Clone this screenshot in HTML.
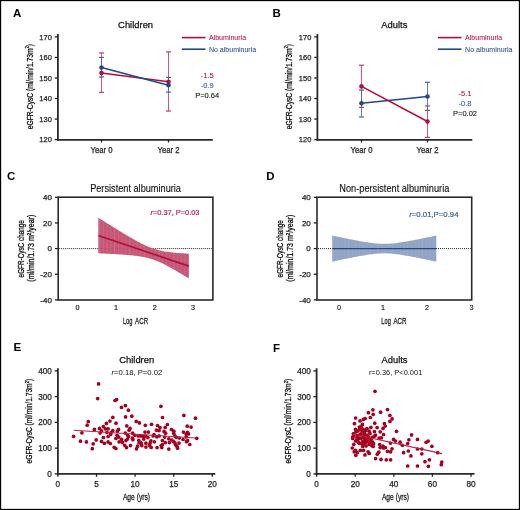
<!DOCTYPE html>
<html><head><meta charset="utf-8"><style>
html,body{margin:0;padding:0;background:#fff;overflow:hidden;}
svg{display:block;font-family:"Liberation Sans", sans-serif;will-change:transform;}
</style></head><body>
<svg width="520" height="510" viewBox="0 0 520 510">
<rect width="520" height="510" fill="#fff"/>
<rect x="0.5" y="0.5" width="519" height="509" fill="none" stroke="#000" stroke-width="1.3"/>
<text x="12.90" y="16.90" font-size="11.5" text-anchor="start" fill="#000" font-weight="bold" >A</text>
<text x="272.60" y="17.10" font-size="11.5" text-anchor="start" fill="#000" font-weight="bold" >B</text>
<text x="7.10" y="180.10" font-size="11.5" text-anchor="start" fill="#000" font-weight="bold" >C</text>
<text x="266.20" y="179.80" font-size="11.5" text-anchor="start" fill="#000" font-weight="bold" >D</text>
<text x="13.40" y="350.80" font-size="11.5" text-anchor="start" fill="#000" font-weight="bold" >E</text>
<text x="273.00" y="351.50" font-size="11.5" text-anchor="start" fill="#000" font-weight="bold" >F</text>
<line x1="57.90" y1="34.00" x2="57.90" y2="140.60" stroke="#2a2a2a" stroke-width="1.8" />
<line x1="57.00" y1="139.80" x2="212.80" y2="139.80" stroke="#2a2a2a" stroke-width="1.8" />
<line x1="54.70" y1="139.60" x2="57.90" y2="139.60" stroke="#222" stroke-width="1.3" />
<text x="51.80" y="142.20" font-size="7.6" text-anchor="end" fill="#222" font-weight="normal" textLength="12.5" lengthAdjust="spacingAndGlyphs" stroke="#222" stroke-width="0.25">120</text>
<line x1="54.70" y1="119.06" x2="57.90" y2="119.06" stroke="#222" stroke-width="1.3" />
<text x="51.80" y="121.66" font-size="7.6" text-anchor="end" fill="#222" font-weight="normal" textLength="12.5" lengthAdjust="spacingAndGlyphs" stroke="#222" stroke-width="0.25">130</text>
<line x1="54.70" y1="98.52" x2="57.90" y2="98.52" stroke="#222" stroke-width="1.3" />
<text x="51.80" y="101.12" font-size="7.6" text-anchor="end" fill="#222" font-weight="normal" textLength="12.5" lengthAdjust="spacingAndGlyphs" stroke="#222" stroke-width="0.25">140</text>
<line x1="54.70" y1="77.98" x2="57.90" y2="77.98" stroke="#222" stroke-width="1.3" />
<text x="51.80" y="80.58" font-size="7.6" text-anchor="end" fill="#222" font-weight="normal" textLength="12.5" lengthAdjust="spacingAndGlyphs" stroke="#222" stroke-width="0.25">150</text>
<line x1="54.70" y1="57.44" x2="57.90" y2="57.44" stroke="#222" stroke-width="1.3" />
<text x="51.80" y="60.04" font-size="7.6" text-anchor="end" fill="#222" font-weight="normal" textLength="12.5" lengthAdjust="spacingAndGlyphs" stroke="#222" stroke-width="0.25">160</text>
<line x1="54.70" y1="36.90" x2="57.90" y2="36.90" stroke="#222" stroke-width="1.3" />
<text x="51.80" y="39.50" font-size="7.6" text-anchor="end" fill="#222" font-weight="normal" textLength="12.5" lengthAdjust="spacingAndGlyphs" stroke="#222" stroke-width="0.25">170</text>
<line x1="101.50" y1="139.80" x2="101.50" y2="142.50" stroke="#222" stroke-width="1.3" />
<text x="101.50" y="152.80" font-size="8.3" text-anchor="middle" fill="#222" font-weight="normal" textLength="22.0" lengthAdjust="spacingAndGlyphs" stroke="#222" stroke-width="0.25">Year 0</text>
<line x1="168.50" y1="139.80" x2="168.50" y2="142.50" stroke="#222" stroke-width="1.3" />
<text x="168.50" y="152.80" font-size="8.3" text-anchor="middle" fill="#222" font-weight="normal" textLength="22.0" lengthAdjust="spacingAndGlyphs" stroke="#222" stroke-width="0.25">Year 2</text>
<text x="135.60" y="28.00" font-size="9.7" text-anchor="middle" fill="#111" font-weight="normal" textLength="35" lengthAdjust="spacingAndGlyphs" stroke="#111" stroke-width="0.25">Children</text>
<text x="0.00" y="0.00" font-size="9.5" text-anchor="middle" fill="#111" font-weight="normal" textLength="85.4" lengthAdjust="spacingAndGlyphs" transform="translate(32.5,86.6) rotate(-90)" stroke="#111" stroke-width="0.3">eGFR-CysC (ml/min/1.73m<tspan dy="-3.5" font-size="6">2</tspan><tspan dy="3.5">)</tspan></text>
<line x1="101.50" y1="92.36" x2="101.50" y2="52.92" stroke="#c43a62" stroke-width="0.85" />
<line x1="99.00" y1="92.36" x2="104.00" y2="92.36" stroke="#c43a62" stroke-width="1.2" />
<line x1="99.00" y1="52.92" x2="104.00" y2="52.92" stroke="#c43a62" stroke-width="1.2" />
<line x1="168.50" y1="111.05" x2="168.50" y2="51.89" stroke="#c43a62" stroke-width="0.85" />
<line x1="166.00" y1="111.05" x2="171.00" y2="111.05" stroke="#c43a62" stroke-width="1.2" />
<line x1="166.00" y1="51.89" x2="171.00" y2="51.89" stroke="#c43a62" stroke-width="1.2" />
<line x1="101.50" y1="76.95" x2="101.50" y2="57.44" stroke="#4a64a0" stroke-width="0.85" />
<line x1="99.00" y1="76.95" x2="104.00" y2="76.95" stroke="#4a64a0" stroke-width="1.2" />
<line x1="99.00" y1="57.44" x2="104.00" y2="57.44" stroke="#4a64a0" stroke-width="1.2" />
<line x1="168.50" y1="92.15" x2="168.50" y2="77.36" stroke="#4a64a0" stroke-width="0.85" />
<line x1="166.00" y1="92.15" x2="171.00" y2="92.15" stroke="#4a64a0" stroke-width="1.2" />
<line x1="166.00" y1="77.36" x2="171.00" y2="77.36" stroke="#4a64a0" stroke-width="1.2" />
<line x1="101.50" y1="73.05" x2="168.50" y2="81.68" stroke="#b0103c" stroke-width="1.5" />
<circle cx="101.50" cy="73.05" r="2.3" fill="#b0103c"/>
<circle cx="168.50" cy="81.68" r="2.3" fill="#b0103c"/>
<line x1="101.50" y1="67.50" x2="168.50" y2="85.17" stroke="#23478a" stroke-width="1.5" />
<circle cx="101.50" cy="67.50" r="2.3" fill="#23478a"/>
<circle cx="168.50" cy="85.17" r="2.3" fill="#23478a"/>
<line x1="181.80" y1="37.60" x2="205.50" y2="37.60" stroke="#b0103c" stroke-width="1.6" />
<line x1="181.80" y1="49.20" x2="205.50" y2="49.20" stroke="#23478a" stroke-width="1.6" />
<text x="208.90" y="40.30" font-size="7.6" text-anchor="start" fill="#b0103c" font-weight="normal" textLength="37.2" lengthAdjust="spacingAndGlyphs" stroke="#b01040" stroke-width="0.05">Albuminuria</text>
<text x="208.90" y="51.90" font-size="7.6" text-anchor="start" fill="#2a4a8c" font-weight="normal" textLength="47.3" lengthAdjust="spacingAndGlyphs" stroke="#2a4a8c" stroke-width="0.05">No albuminuria</text>
<text x="207.20" y="78.00" font-size="7.5" text-anchor="middle" fill="#b0103c" font-weight="normal" stroke="#b0103c" stroke-width="0.08">-1.5</text>
<text x="207.20" y="87.50" font-size="7.5" text-anchor="middle" fill="#3a5a9a" font-weight="normal" stroke="#3a5a9a" stroke-width="0.08">-0.9</text>
<text x="207.20" y="97.70" font-size="7.6" text-anchor="middle" fill="#111" font-weight="normal" textLength="24" lengthAdjust="spacingAndGlyphs" stroke="#111" stroke-width="0.1">P=0.64</text>
<line x1="317.40" y1="34.00" x2="317.40" y2="140.60" stroke="#2a2a2a" stroke-width="1.8" />
<line x1="316.50" y1="139.80" x2="472.30" y2="139.80" stroke="#2a2a2a" stroke-width="1.8" />
<line x1="314.20" y1="139.60" x2="317.40" y2="139.60" stroke="#222" stroke-width="1.3" />
<text x="311.30" y="142.20" font-size="7.6" text-anchor="end" fill="#222" font-weight="normal" textLength="12.5" lengthAdjust="spacingAndGlyphs" stroke="#222" stroke-width="0.25">120</text>
<line x1="314.20" y1="119.06" x2="317.40" y2="119.06" stroke="#222" stroke-width="1.3" />
<text x="311.30" y="121.66" font-size="7.6" text-anchor="end" fill="#222" font-weight="normal" textLength="12.5" lengthAdjust="spacingAndGlyphs" stroke="#222" stroke-width="0.25">130</text>
<line x1="314.20" y1="98.52" x2="317.40" y2="98.52" stroke="#222" stroke-width="1.3" />
<text x="311.30" y="101.12" font-size="7.6" text-anchor="end" fill="#222" font-weight="normal" textLength="12.5" lengthAdjust="spacingAndGlyphs" stroke="#222" stroke-width="0.25">140</text>
<line x1="314.20" y1="77.98" x2="317.40" y2="77.98" stroke="#222" stroke-width="1.3" />
<text x="311.30" y="80.58" font-size="7.6" text-anchor="end" fill="#222" font-weight="normal" textLength="12.5" lengthAdjust="spacingAndGlyphs" stroke="#222" stroke-width="0.25">150</text>
<line x1="314.20" y1="57.44" x2="317.40" y2="57.44" stroke="#222" stroke-width="1.3" />
<text x="311.30" y="60.04" font-size="7.6" text-anchor="end" fill="#222" font-weight="normal" textLength="12.5" lengthAdjust="spacingAndGlyphs" stroke="#222" stroke-width="0.25">160</text>
<line x1="314.20" y1="36.90" x2="317.40" y2="36.90" stroke="#222" stroke-width="1.3" />
<text x="311.30" y="39.50" font-size="7.6" text-anchor="end" fill="#222" font-weight="normal" textLength="12.5" lengthAdjust="spacingAndGlyphs" stroke="#222" stroke-width="0.25">170</text>
<line x1="361.50" y1="139.80" x2="361.50" y2="142.50" stroke="#222" stroke-width="1.3" />
<text x="361.50" y="152.80" font-size="8.3" text-anchor="middle" fill="#222" font-weight="normal" textLength="22.0" lengthAdjust="spacingAndGlyphs" stroke="#222" stroke-width="0.25">Year 0</text>
<line x1="427.50" y1="139.80" x2="427.50" y2="142.50" stroke="#222" stroke-width="1.3" />
<text x="427.50" y="152.80" font-size="8.3" text-anchor="middle" fill="#222" font-weight="normal" textLength="22.0" lengthAdjust="spacingAndGlyphs" stroke="#222" stroke-width="0.25">Year 2</text>
<text x="394.30" y="28.00" font-size="9.7" text-anchor="middle" fill="#111" font-weight="normal" textLength="26.2" lengthAdjust="spacingAndGlyphs" stroke="#111" stroke-width="0.25">Adults</text>
<text x="0.00" y="0.00" font-size="9.5" text-anchor="middle" fill="#111" font-weight="normal" textLength="85.4" lengthAdjust="spacingAndGlyphs" transform="translate(291.61075,86.6) rotate(-90)" stroke="#111" stroke-width="0.3">eGFR-CysC (ml/min/1.73m<tspan dy="-3.5" font-size="6">2</tspan><tspan dy="3.5">)</tspan></text>
<line x1="361.50" y1="107.35" x2="361.50" y2="65.25" stroke="#c43a62" stroke-width="0.85" />
<line x1="359.00" y1="107.35" x2="364.00" y2="107.35" stroke="#c43a62" stroke-width="1.2" />
<line x1="359.00" y1="65.25" x2="364.00" y2="65.25" stroke="#c43a62" stroke-width="1.2" />
<line x1="427.50" y1="137.34" x2="427.50" y2="105.91" stroke="#c43a62" stroke-width="0.85" />
<line x1="425.00" y1="137.34" x2="430.00" y2="137.34" stroke="#c43a62" stroke-width="1.2" />
<line x1="425.00" y1="105.91" x2="430.00" y2="105.91" stroke="#c43a62" stroke-width="1.2" />
<line x1="361.50" y1="117.01" x2="361.50" y2="90.10" stroke="#4a64a0" stroke-width="0.85" />
<line x1="359.00" y1="117.01" x2="364.00" y2="117.01" stroke="#4a64a0" stroke-width="1.2" />
<line x1="359.00" y1="90.10" x2="364.00" y2="90.10" stroke="#4a64a0" stroke-width="1.2" />
<line x1="427.50" y1="110.43" x2="427.50" y2="82.29" stroke="#4a64a0" stroke-width="0.85" />
<line x1="425.00" y1="110.43" x2="430.00" y2="110.43" stroke="#4a64a0" stroke-width="1.2" />
<line x1="425.00" y1="82.29" x2="430.00" y2="82.29" stroke="#4a64a0" stroke-width="1.2" />
<line x1="361.50" y1="103.24" x2="427.50" y2="96.47" stroke="#23478a" stroke-width="1.5" />
<circle cx="361.50" cy="103.24" r="2.3" fill="#23478a"/>
<circle cx="427.50" cy="96.47" r="2.3" fill="#23478a"/>
<line x1="361.50" y1="86.40" x2="427.50" y2="121.52" stroke="#b0103c" stroke-width="1.5" />
<circle cx="361.50" cy="86.40" r="2.3" fill="#b0103c"/>
<circle cx="427.50" cy="121.52" r="2.3" fill="#b0103c"/>
<line x1="437.80" y1="37.60" x2="461.50" y2="37.60" stroke="#b0103c" stroke-width="1.6" />
<line x1="437.80" y1="49.20" x2="461.50" y2="49.20" stroke="#23478a" stroke-width="1.6" />
<text x="465.10" y="40.30" font-size="7.6" text-anchor="start" fill="#b0103c" font-weight="normal" textLength="37.2" lengthAdjust="spacingAndGlyphs" stroke="#b01040" stroke-width="0.05">Albuminuria</text>
<text x="465.10" y="51.90" font-size="7.6" text-anchor="start" fill="#2a4a8c" font-weight="normal" textLength="47.3" lengthAdjust="spacingAndGlyphs" stroke="#2a4a8c" stroke-width="0.05">No albuminuria</text>
<text x="465.00" y="96.10" font-size="7.5" text-anchor="middle" fill="#b0103c" font-weight="normal" stroke="#b0103c" stroke-width="0.08">-5.1</text>
<text x="465.00" y="105.60" font-size="7.5" text-anchor="middle" fill="#3a5a9a" font-weight="normal" stroke="#3a5a9a" stroke-width="0.08">-0.8</text>
<text x="465.00" y="115.80" font-size="7.6" text-anchor="middle" fill="#111" font-weight="normal" textLength="24" lengthAdjust="spacingAndGlyphs" stroke="#111" stroke-width="0.1">P=0.02</text>
<line x1="59.20" y1="248.60" x2="211.90" y2="248.60" stroke="#222" stroke-width="1" stroke-dasharray="1,1"/>
<path d="M98.30,217.70 L99.81,218.65 L101.32,219.61 L102.83,220.56 L104.34,221.51 L105.85,222.46 L107.36,223.41 L108.87,224.35 L110.38,225.30 L111.89,226.24 L113.40,227.18 L114.91,228.11 L116.42,229.05 L117.93,229.98 L119.44,230.90 L120.95,231.83 L122.46,232.74 L123.97,233.66 L125.48,234.56 L126.99,235.47 L128.50,236.36 L130.01,237.24 L131.52,238.12 L133.03,238.99 L134.54,239.84 L136.05,240.68 L137.56,241.51 L139.07,242.32 L140.58,243.11 L142.09,243.88 L143.60,244.62 L145.11,245.34 L146.62,246.02 L148.13,246.68 L149.64,247.29 L151.15,247.87 L152.66,248.41 L154.17,248.91 L155.68,249.37 L157.19,249.79 L158.70,250.18 L160.21,250.53 L161.72,250.85 L163.23,251.14 L164.74,251.40 L166.25,251.64 L167.76,251.86 L169.27,252.07 L170.78,252.25 L172.29,252.43 L173.80,252.59 L175.31,252.74 L176.82,252.88 L178.33,253.01 L179.84,253.13 L181.35,253.25 L182.86,253.36 L184.37,253.47 L185.88,253.57 L187.39,253.66 L188.90,253.76 L188.90,278.54 L187.39,277.61 L185.88,276.69 L184.37,275.77 L182.86,274.85 L181.35,273.94 L179.84,273.04 L178.33,272.14 L176.82,271.25 L175.31,270.37 L173.80,269.50 L172.29,268.64 L170.78,267.79 L169.27,266.95 L167.76,266.13 L166.25,265.33 L164.74,264.55 L163.23,263.79 L161.72,263.06 L160.21,262.36 L158.70,261.69 L157.19,261.05 L155.68,260.45 L154.17,259.89 L152.66,259.37 L151.15,258.89 L149.64,258.44 L148.13,258.04 L146.62,257.67 L145.11,257.33 L143.60,257.03 L142.09,256.75 L140.58,256.50 L139.07,256.26 L137.56,256.05 L136.05,255.86 L134.54,255.68 L133.03,255.51 L131.52,255.36 L130.01,255.21 L128.50,255.07 L126.99,254.95 L125.48,254.83 L123.97,254.71 L122.46,254.60 L120.95,254.50 L119.44,254.40 L117.93,254.30 L116.42,254.21 L114.91,254.12 L113.40,254.04 L111.89,253.96 L110.38,253.88 L108.87,253.80 L107.36,253.72 L105.85,253.65 L104.34,253.58 L102.83,253.51 L101.32,253.44 L99.81,253.37 L98.30,253.30Z" fill="#c24c6e" fill-opacity="0.94"/>
<clipPath id="cp0"><path d="M98.30,217.70 L99.81,218.65 L101.32,219.61 L102.83,220.56 L104.34,221.51 L105.85,222.46 L107.36,223.41 L108.87,224.35 L110.38,225.30 L111.89,226.24 L113.40,227.18 L114.91,228.11 L116.42,229.05 L117.93,229.98 L119.44,230.90 L120.95,231.83 L122.46,232.74 L123.97,233.66 L125.48,234.56 L126.99,235.47 L128.50,236.36 L130.01,237.24 L131.52,238.12 L133.03,238.99 L134.54,239.84 L136.05,240.68 L137.56,241.51 L139.07,242.32 L140.58,243.11 L142.09,243.88 L143.60,244.62 L145.11,245.34 L146.62,246.02 L148.13,246.68 L149.64,247.29 L151.15,247.87 L152.66,248.41 L154.17,248.91 L155.68,249.37 L157.19,249.79 L158.70,250.18 L160.21,250.53 L161.72,250.85 L163.23,251.14 L164.74,251.40 L166.25,251.64 L167.76,251.86 L169.27,252.07 L170.78,252.25 L172.29,252.43 L173.80,252.59 L175.31,252.74 L176.82,252.88 L178.33,253.01 L179.84,253.13 L181.35,253.25 L182.86,253.36 L184.37,253.47 L185.88,253.57 L187.39,253.66 L188.90,253.76 L188.90,278.54 L187.39,277.61 L185.88,276.69 L184.37,275.77 L182.86,274.85 L181.35,273.94 L179.84,273.04 L178.33,272.14 L176.82,271.25 L175.31,270.37 L173.80,269.50 L172.29,268.64 L170.78,267.79 L169.27,266.95 L167.76,266.13 L166.25,265.33 L164.74,264.55 L163.23,263.79 L161.72,263.06 L160.21,262.36 L158.70,261.69 L157.19,261.05 L155.68,260.45 L154.17,259.89 L152.66,259.37 L151.15,258.89 L149.64,258.44 L148.13,258.04 L146.62,257.67 L145.11,257.33 L143.60,257.03 L142.09,256.75 L140.58,256.50 L139.07,256.26 L137.56,256.05 L136.05,255.86 L134.54,255.68 L133.03,255.51 L131.52,255.36 L130.01,255.21 L128.50,255.07 L126.99,254.95 L125.48,254.83 L123.97,254.71 L122.46,254.60 L120.95,254.50 L119.44,254.40 L117.93,254.30 L116.42,254.21 L114.91,254.12 L113.40,254.04 L111.89,253.96 L110.38,253.88 L108.87,253.80 L107.36,253.72 L105.85,253.65 L104.34,253.58 L102.83,253.51 L101.32,253.44 L99.81,253.37 L98.30,253.30Z"/></clipPath>
<g clip-path="url(#cp0)"><line x1="99.80" y1="190" x2="99.80" y2="300" stroke="#d67f98" stroke-width="0.8" stroke-opacity="0.7"/><line x1="103.50" y1="190" x2="103.50" y2="300" stroke="#d67f98" stroke-width="0.5" stroke-opacity="0.7"/><line x1="107.20" y1="190" x2="107.20" y2="300" stroke="#d67f98" stroke-width="0.5" stroke-opacity="0.7"/><line x1="110.90" y1="190" x2="110.90" y2="300" stroke="#d67f98" stroke-width="0.5" stroke-opacity="0.7"/><line x1="114.60" y1="190" x2="114.60" y2="300" stroke="#d67f98" stroke-width="0.8" stroke-opacity="0.7"/><line x1="118.30" y1="190" x2="118.30" y2="300" stroke="#d67f98" stroke-width="0.5" stroke-opacity="0.7"/><line x1="122.00" y1="190" x2="122.00" y2="300" stroke="#d67f98" stroke-width="0.5" stroke-opacity="0.7"/><line x1="125.70" y1="190" x2="125.70" y2="300" stroke="#d67f98" stroke-width="0.5" stroke-opacity="0.7"/><line x1="129.40" y1="190" x2="129.40" y2="300" stroke="#d67f98" stroke-width="0.8" stroke-opacity="0.7"/><line x1="133.10" y1="190" x2="133.10" y2="300" stroke="#d67f98" stroke-width="0.5" stroke-opacity="0.7"/><line x1="136.80" y1="190" x2="136.80" y2="300" stroke="#d67f98" stroke-width="0.5" stroke-opacity="0.7"/><line x1="140.50" y1="190" x2="140.50" y2="300" stroke="#d67f98" stroke-width="0.5" stroke-opacity="0.7"/><line x1="144.20" y1="190" x2="144.20" y2="300" stroke="#d67f98" stroke-width="0.8" stroke-opacity="0.7"/><line x1="147.90" y1="190" x2="147.90" y2="300" stroke="#d67f98" stroke-width="0.5" stroke-opacity="0.7"/><line x1="151.60" y1="190" x2="151.60" y2="300" stroke="#d67f98" stroke-width="0.5" stroke-opacity="0.7"/><line x1="155.30" y1="190" x2="155.30" y2="300" stroke="#d67f98" stroke-width="0.5" stroke-opacity="0.7"/><line x1="159.00" y1="190" x2="159.00" y2="300" stroke="#d67f98" stroke-width="0.8" stroke-opacity="0.7"/><line x1="162.70" y1="190" x2="162.70" y2="300" stroke="#d67f98" stroke-width="0.5" stroke-opacity="0.7"/><line x1="166.40" y1="190" x2="166.40" y2="300" stroke="#d67f98" stroke-width="0.5" stroke-opacity="0.7"/><line x1="170.10" y1="190" x2="170.10" y2="300" stroke="#d67f98" stroke-width="0.5" stroke-opacity="0.7"/><line x1="173.80" y1="190" x2="173.80" y2="300" stroke="#d67f98" stroke-width="0.8" stroke-opacity="0.7"/><line x1="177.50" y1="190" x2="177.50" y2="300" stroke="#d67f98" stroke-width="0.5" stroke-opacity="0.7"/><line x1="181.20" y1="190" x2="181.20" y2="300" stroke="#d67f98" stroke-width="0.5" stroke-opacity="0.7"/><line x1="184.90" y1="190" x2="184.90" y2="300" stroke="#d67f98" stroke-width="0.5" stroke-opacity="0.7"/><line x1="188.60" y1="190" x2="188.60" y2="300" stroke="#d67f98" stroke-width="0.8" stroke-opacity="0.7"/></g>
<line x1="98.30" y1="235.50" x2="188.90" y2="266.15" stroke="#b0103c" stroke-width="1.7" />
<rect x="58.20" y="197.2" width="154.70" height="102.80000000000001" fill="none" stroke="#2a2a2a" stroke-width="1.6"/>
<line x1="55.00" y1="197.32" x2="58.20" y2="197.32" stroke="#222" stroke-width="1.3" />
<text x="51.90" y="200.12" font-size="8" text-anchor="end" fill="#222" font-weight="normal" stroke="#222" stroke-width="0.25">40</text>
<line x1="55.00" y1="222.96" x2="58.20" y2="222.96" stroke="#222" stroke-width="1.3" />
<text x="51.90" y="225.76" font-size="8" text-anchor="end" fill="#222" font-weight="normal" stroke="#222" stroke-width="0.25">20</text>
<line x1="55.00" y1="248.60" x2="58.20" y2="248.60" stroke="#222" stroke-width="1.3" />
<text x="51.90" y="251.40" font-size="8" text-anchor="end" fill="#222" font-weight="normal" stroke="#222" stroke-width="0.25">0</text>
<line x1="55.00" y1="274.24" x2="58.20" y2="274.24" stroke="#222" stroke-width="1.3" />
<text x="51.90" y="277.04" font-size="8" text-anchor="end" fill="#222" font-weight="normal" stroke="#222" stroke-width="0.25">-20</text>
<line x1="55.00" y1="299.88" x2="58.20" y2="299.88" stroke="#222" stroke-width="1.3" />
<text x="51.90" y="302.68" font-size="8" text-anchor="end" fill="#222" font-weight="normal" stroke="#222" stroke-width="0.25">-40</text>
<text x="77.50" y="310.20" font-size="7.2" text-anchor="middle" fill="#222" font-weight="normal" stroke="#222" stroke-width="0.18">0</text>
<text x="116.00" y="310.20" font-size="7.2" text-anchor="middle" fill="#222" font-weight="normal" stroke="#222" stroke-width="0.18">1</text>
<text x="154.80" y="310.20" font-size="7.2" text-anchor="middle" fill="#222" font-weight="normal" stroke="#222" stroke-width="0.18">2</text>
<text x="192.90" y="310.20" font-size="7.2" text-anchor="middle" fill="#222" font-weight="normal" stroke="#222" stroke-width="0.18">3</text>
<text x="122.90" y="323.50" font-size="9.4" text-anchor="start" fill="#222" font-weight="normal" textLength="9.5" lengthAdjust="spacingAndGlyphs" stroke="#222" stroke-width="0.3">Log</text>
<text x="135.10" y="323.50" font-size="9.4" text-anchor="start" fill="#222" font-weight="normal" textLength="13.0" lengthAdjust="spacingAndGlyphs" stroke="#222" stroke-width="0.3">ACR</text>
<text x="135.55" y="191.80" font-size="10" text-anchor="middle" fill="#111" font-weight="normal" textLength="90.8" lengthAdjust="spacingAndGlyphs" stroke="#111" stroke-width="0.12">Persistent albuminuria</text>
<text x="150.40" y="215.40" font-size="7.6" text-anchor="start" fill="#b82350" font-weight="normal" textLength="49.1" lengthAdjust="spacingAndGlyphs" stroke="#b82350" stroke-width="0.2"><tspan font-style="italic">r</tspan>=0.37, P=0.03</text>
<text x="0.00" y="0.00" font-size="8.6" text-anchor="middle" fill="#111" font-weight="normal" textLength="57.2" lengthAdjust="spacingAndGlyphs" transform="translate(23.8,248.8) rotate(-90)" stroke="#111" stroke-width="0.3">eGFR-CysC change</text>
<text x="0.00" y="0.00" font-size="8.6" text-anchor="middle" fill="#111" font-weight="normal" textLength="66.9" lengthAdjust="spacingAndGlyphs" transform="translate(34.2,248.2) rotate(-90)" stroke="#111" stroke-width="0.3">(ml/min/1.73 m<tspan dy="-3" font-size="5.5">2</tspan><tspan dy="3">/year)</tspan></text>
<line x1="318.00" y1="248.60" x2="470.70" y2="248.60" stroke="#222" stroke-width="1" stroke-dasharray="1,1"/>
<path d="M332.20,235.50 L333.94,235.88 L335.67,236.25 L337.40,236.63 L339.14,237.00 L340.88,237.37 L342.61,237.74 L344.34,238.10 L346.08,238.46 L347.81,238.82 L349.55,239.18 L351.28,239.52 L353.02,239.87 L354.75,240.21 L356.49,240.54 L358.23,240.86 L359.96,241.18 L361.69,241.49 L363.43,241.79 L365.17,242.07 L366.90,242.34 L368.63,242.60 L370.37,242.84 L372.11,243.06 L373.84,243.26 L375.57,243.43 L377.31,243.58 L379.05,243.69 L380.78,243.78 L382.51,243.83 L384.25,243.85 L385.99,243.83 L387.72,243.78 L389.45,243.69 L391.19,243.58 L392.93,243.43 L394.66,243.26 L396.39,243.06 L398.13,242.84 L399.87,242.60 L401.60,242.34 L403.34,242.07 L405.07,241.79 L406.81,241.49 L408.54,241.18 L410.27,240.86 L412.01,240.54 L413.75,240.21 L415.48,239.87 L417.22,239.52 L418.95,239.18 L420.69,238.82 L422.42,238.46 L424.15,238.10 L425.89,237.74 L427.62,237.37 L429.36,237.00 L431.10,236.63 L432.83,236.25 L434.56,235.88 L436.30,235.50 L436.30,261.70 L434.56,261.32 L432.83,260.95 L431.10,260.57 L429.36,260.20 L427.62,259.83 L425.89,259.46 L424.15,259.10 L422.42,258.74 L420.69,258.38 L418.95,258.02 L417.22,257.68 L415.48,257.33 L413.75,256.99 L412.01,256.66 L410.27,256.34 L408.54,256.02 L406.81,255.71 L405.07,255.41 L403.34,255.13 L401.60,254.86 L399.87,254.60 L398.13,254.36 L396.39,254.14 L394.66,253.94 L392.93,253.77 L391.19,253.62 L389.45,253.51 L387.72,253.42 L385.99,253.37 L384.25,253.35 L382.51,253.37 L380.78,253.42 L379.05,253.51 L377.31,253.62 L375.57,253.77 L373.84,253.94 L372.11,254.14 L370.37,254.36 L368.63,254.60 L366.90,254.86 L365.17,255.13 L363.43,255.41 L361.69,255.71 L359.96,256.02 L358.23,256.34 L356.49,256.66 L354.75,256.99 L353.02,257.33 L351.28,257.68 L349.55,258.02 L347.81,258.38 L346.08,258.74 L344.34,259.10 L342.61,259.46 L340.88,259.83 L339.14,260.20 L337.40,260.57 L335.67,260.95 L333.94,261.32 L332.20,261.70Z" fill="#8b9ebf" fill-opacity="0.94"/>
<clipPath id="cp258.5"><path d="M332.20,235.50 L333.94,235.88 L335.67,236.25 L337.40,236.63 L339.14,237.00 L340.88,237.37 L342.61,237.74 L344.34,238.10 L346.08,238.46 L347.81,238.82 L349.55,239.18 L351.28,239.52 L353.02,239.87 L354.75,240.21 L356.49,240.54 L358.23,240.86 L359.96,241.18 L361.69,241.49 L363.43,241.79 L365.17,242.07 L366.90,242.34 L368.63,242.60 L370.37,242.84 L372.11,243.06 L373.84,243.26 L375.57,243.43 L377.31,243.58 L379.05,243.69 L380.78,243.78 L382.51,243.83 L384.25,243.85 L385.99,243.83 L387.72,243.78 L389.45,243.69 L391.19,243.58 L392.93,243.43 L394.66,243.26 L396.39,243.06 L398.13,242.84 L399.87,242.60 L401.60,242.34 L403.34,242.07 L405.07,241.79 L406.81,241.49 L408.54,241.18 L410.27,240.86 L412.01,240.54 L413.75,240.21 L415.48,239.87 L417.22,239.52 L418.95,239.18 L420.69,238.82 L422.42,238.46 L424.15,238.10 L425.89,237.74 L427.62,237.37 L429.36,237.00 L431.10,236.63 L432.83,236.25 L434.56,235.88 L436.30,235.50 L436.30,261.70 L434.56,261.32 L432.83,260.95 L431.10,260.57 L429.36,260.20 L427.62,259.83 L425.89,259.46 L424.15,259.10 L422.42,258.74 L420.69,258.38 L418.95,258.02 L417.22,257.68 L415.48,257.33 L413.75,256.99 L412.01,256.66 L410.27,256.34 L408.54,256.02 L406.81,255.71 L405.07,255.41 L403.34,255.13 L401.60,254.86 L399.87,254.60 L398.13,254.36 L396.39,254.14 L394.66,253.94 L392.93,253.77 L391.19,253.62 L389.45,253.51 L387.72,253.42 L385.99,253.37 L384.25,253.35 L382.51,253.37 L380.78,253.42 L379.05,253.51 L377.31,253.62 L375.57,253.77 L373.84,253.94 L372.11,254.14 L370.37,254.36 L368.63,254.60 L366.90,254.86 L365.17,255.13 L363.43,255.41 L361.69,255.71 L359.96,256.02 L358.23,256.34 L356.49,256.66 L354.75,256.99 L353.02,257.33 L351.28,257.68 L349.55,258.02 L347.81,258.38 L346.08,258.74 L344.34,259.10 L342.61,259.46 L340.88,259.83 L339.14,260.20 L337.40,260.57 L335.67,260.95 L333.94,261.32 L332.20,261.70Z"/></clipPath>
<g clip-path="url(#cp258.5)"><line x1="333.70" y1="190" x2="333.70" y2="300" stroke="#a6b5d0" stroke-width="0.8" stroke-opacity="0.7"/><line x1="337.40" y1="190" x2="337.40" y2="300" stroke="#a6b5d0" stroke-width="0.5" stroke-opacity="0.7"/><line x1="341.10" y1="190" x2="341.10" y2="300" stroke="#a6b5d0" stroke-width="0.5" stroke-opacity="0.7"/><line x1="344.80" y1="190" x2="344.80" y2="300" stroke="#a6b5d0" stroke-width="0.5" stroke-opacity="0.7"/><line x1="348.50" y1="190" x2="348.50" y2="300" stroke="#a6b5d0" stroke-width="0.8" stroke-opacity="0.7"/><line x1="352.20" y1="190" x2="352.20" y2="300" stroke="#a6b5d0" stroke-width="0.5" stroke-opacity="0.7"/><line x1="355.90" y1="190" x2="355.90" y2="300" stroke="#a6b5d0" stroke-width="0.5" stroke-opacity="0.7"/><line x1="359.60" y1="190" x2="359.60" y2="300" stroke="#a6b5d0" stroke-width="0.5" stroke-opacity="0.7"/><line x1="363.30" y1="190" x2="363.30" y2="300" stroke="#a6b5d0" stroke-width="0.8" stroke-opacity="0.7"/><line x1="367.00" y1="190" x2="367.00" y2="300" stroke="#a6b5d0" stroke-width="0.5" stroke-opacity="0.7"/><line x1="370.70" y1="190" x2="370.70" y2="300" stroke="#a6b5d0" stroke-width="0.5" stroke-opacity="0.7"/><line x1="374.40" y1="190" x2="374.40" y2="300" stroke="#a6b5d0" stroke-width="0.5" stroke-opacity="0.7"/><line x1="378.10" y1="190" x2="378.10" y2="300" stroke="#a6b5d0" stroke-width="0.8" stroke-opacity="0.7"/><line x1="381.80" y1="190" x2="381.80" y2="300" stroke="#a6b5d0" stroke-width="0.5" stroke-opacity="0.7"/><line x1="385.50" y1="190" x2="385.50" y2="300" stroke="#a6b5d0" stroke-width="0.5" stroke-opacity="0.7"/><line x1="389.20" y1="190" x2="389.20" y2="300" stroke="#a6b5d0" stroke-width="0.5" stroke-opacity="0.7"/><line x1="392.90" y1="190" x2="392.90" y2="300" stroke="#a6b5d0" stroke-width="0.8" stroke-opacity="0.7"/><line x1="396.60" y1="190" x2="396.60" y2="300" stroke="#a6b5d0" stroke-width="0.5" stroke-opacity="0.7"/><line x1="400.30" y1="190" x2="400.30" y2="300" stroke="#a6b5d0" stroke-width="0.5" stroke-opacity="0.7"/><line x1="404.00" y1="190" x2="404.00" y2="300" stroke="#a6b5d0" stroke-width="0.5" stroke-opacity="0.7"/><line x1="407.70" y1="190" x2="407.70" y2="300" stroke="#a6b5d0" stroke-width="0.8" stroke-opacity="0.7"/><line x1="411.40" y1="190" x2="411.40" y2="300" stroke="#a6b5d0" stroke-width="0.5" stroke-opacity="0.7"/><line x1="415.10" y1="190" x2="415.10" y2="300" stroke="#a6b5d0" stroke-width="0.5" stroke-opacity="0.7"/><line x1="418.80" y1="190" x2="418.80" y2="300" stroke="#a6b5d0" stroke-width="0.5" stroke-opacity="0.7"/><line x1="422.50" y1="190" x2="422.50" y2="300" stroke="#a6b5d0" stroke-width="0.8" stroke-opacity="0.7"/><line x1="426.20" y1="190" x2="426.20" y2="300" stroke="#a6b5d0" stroke-width="0.5" stroke-opacity="0.7"/><line x1="429.90" y1="190" x2="429.90" y2="300" stroke="#a6b5d0" stroke-width="0.5" stroke-opacity="0.7"/><line x1="433.60" y1="190" x2="433.60" y2="300" stroke="#a6b5d0" stroke-width="0.5" stroke-opacity="0.7"/></g>
<line x1="332.20" y1="248.60" x2="436.30" y2="248.60" stroke="#23478a" stroke-width="1.35" />
<rect x="317.00" y="197.2" width="154.70" height="102.80000000000001" fill="none" stroke="#2a2a2a" stroke-width="1.6"/>
<line x1="313.80" y1="197.32" x2="317.00" y2="197.32" stroke="#222" stroke-width="1.3" />
<text x="310.80" y="200.12" font-size="8" text-anchor="end" fill="#222" font-weight="normal" stroke="#222" stroke-width="0.25">40</text>
<line x1="313.80" y1="222.96" x2="317.00" y2="222.96" stroke="#222" stroke-width="1.3" />
<text x="310.80" y="225.76" font-size="8" text-anchor="end" fill="#222" font-weight="normal" stroke="#222" stroke-width="0.25">20</text>
<line x1="313.80" y1="248.60" x2="317.00" y2="248.60" stroke="#222" stroke-width="1.3" />
<text x="310.80" y="251.40" font-size="8" text-anchor="end" fill="#222" font-weight="normal" stroke="#222" stroke-width="0.25">0</text>
<line x1="313.80" y1="274.24" x2="317.00" y2="274.24" stroke="#222" stroke-width="1.3" />
<text x="310.80" y="277.04" font-size="8" text-anchor="end" fill="#222" font-weight="normal" stroke="#222" stroke-width="0.25">-20</text>
<line x1="313.80" y1="299.88" x2="317.00" y2="299.88" stroke="#222" stroke-width="1.3" />
<text x="310.80" y="302.68" font-size="8" text-anchor="end" fill="#222" font-weight="normal" stroke="#222" stroke-width="0.25">-40</text>
<text x="339.10" y="310.20" font-size="7.2" text-anchor="middle" fill="#222" font-weight="normal" stroke="#222" stroke-width="0.18">0</text>
<text x="383.10" y="310.20" font-size="7.2" text-anchor="middle" fill="#222" font-weight="normal" stroke="#222" stroke-width="0.18">1</text>
<text x="427.10" y="310.20" font-size="7.2" text-anchor="middle" fill="#222" font-weight="normal" stroke="#222" stroke-width="0.18">2</text>
<text x="471.40" y="310.20" font-size="7.2" text-anchor="middle" fill="#222" font-weight="normal" stroke="#222" stroke-width="0.18">3</text>
<text x="381.30" y="323.50" font-size="9.4" text-anchor="start" fill="#222" font-weight="normal" textLength="9.5" lengthAdjust="spacingAndGlyphs" stroke="#222" stroke-width="0.3">Log</text>
<text x="393.50" y="323.50" font-size="9.4" text-anchor="start" fill="#222" font-weight="normal" textLength="13.0" lengthAdjust="spacingAndGlyphs" stroke="#222" stroke-width="0.3">ACR</text>
<text x="394.35" y="191.80" font-size="10" text-anchor="middle" fill="#111" font-weight="normal" textLength="110" lengthAdjust="spacingAndGlyphs" stroke="#111" stroke-width="0.12">Non-persistent albuminuria</text>
<text x="409.20" y="216.50" font-size="7.6" text-anchor="start" fill="#3b5a98" font-weight="normal" textLength="49.3" lengthAdjust="spacingAndGlyphs" stroke="#3b5a98" stroke-width="0.2"><tspan font-style="italic">r</tspan>=0.01,P=0.94</text>
<text x="0.00" y="0.00" font-size="8.6" text-anchor="middle" fill="#111" font-weight="normal" textLength="57.2" lengthAdjust="spacingAndGlyphs" transform="translate(282.7,248.8) rotate(-90)" stroke="#111" stroke-width="0.3">eGFR-CysC change</text>
<text x="0.00" y="0.00" font-size="8.6" text-anchor="middle" fill="#111" font-weight="normal" textLength="66.9" lengthAdjust="spacingAndGlyphs" transform="translate(293.1,248.2) rotate(-90)" stroke="#111" stroke-width="0.3">(ml/min/1.73 m<tspan dy="-3" font-size="5.5">2</tspan><tspan dy="3">/year)</tspan></text>
<line x1="57.90" y1="368.30" x2="57.90" y2="474.80" stroke="#2a2a2a" stroke-width="1.8" />
<line x1="57.00" y1="473.90" x2="215.30" y2="473.90" stroke="#2a2a2a" stroke-width="1.8" />
<line x1="54.70" y1="473.90" x2="57.90" y2="473.90" stroke="#222" stroke-width="1.3" />
<text x="51.90" y="476.80" font-size="8.2" text-anchor="end" fill="#222" font-weight="normal" stroke="#222" stroke-width="0.25">0</text>
<line x1="54.70" y1="448.15" x2="57.90" y2="448.15" stroke="#222" stroke-width="1.3" />
<text x="51.90" y="451.05" font-size="8.2" text-anchor="end" fill="#222" font-weight="normal" stroke="#222" stroke-width="0.25">100</text>
<line x1="54.70" y1="422.40" x2="57.90" y2="422.40" stroke="#222" stroke-width="1.3" />
<text x="51.90" y="425.30" font-size="8.2" text-anchor="end" fill="#222" font-weight="normal" stroke="#222" stroke-width="0.25">200</text>
<line x1="54.70" y1="396.65" x2="57.90" y2="396.65" stroke="#222" stroke-width="1.3" />
<text x="51.90" y="399.55" font-size="8.2" text-anchor="end" fill="#222" font-weight="normal" stroke="#222" stroke-width="0.25">300</text>
<line x1="54.70" y1="370.90" x2="57.90" y2="370.90" stroke="#222" stroke-width="1.3" />
<text x="51.90" y="373.80" font-size="8.2" text-anchor="end" fill="#222" font-weight="normal" stroke="#222" stroke-width="0.25">400</text>
<line x1="57.90" y1="473.90" x2="57.90" y2="476.80" stroke="#222" stroke-width="1.3" />
<text x="57.90" y="487.40" font-size="8.2" text-anchor="middle" fill="#222" font-weight="normal" stroke="#222" stroke-width="0.25">0</text>
<line x1="96.50" y1="473.90" x2="96.50" y2="476.80" stroke="#222" stroke-width="1.3" />
<text x="96.50" y="487.40" font-size="8.2" text-anchor="middle" fill="#222" font-weight="normal" stroke="#222" stroke-width="0.25">5</text>
<line x1="135.10" y1="473.90" x2="135.10" y2="476.80" stroke="#222" stroke-width="1.3" />
<text x="135.10" y="487.40" font-size="8.2" text-anchor="middle" fill="#222" font-weight="normal" stroke="#222" stroke-width="0.25">10</text>
<line x1="173.70" y1="473.90" x2="173.70" y2="476.80" stroke="#222" stroke-width="1.3" />
<text x="173.70" y="487.40" font-size="8.2" text-anchor="middle" fill="#222" font-weight="normal" stroke="#222" stroke-width="0.25">15</text>
<line x1="212.30" y1="473.90" x2="212.30" y2="476.80" stroke="#222" stroke-width="1.3" />
<text x="212.30" y="487.40" font-size="8.2" text-anchor="middle" fill="#222" font-weight="normal" stroke="#222" stroke-width="0.25">20</text>
<text x="136.50" y="500.30" font-size="8.6" text-anchor="middle" fill="#222" font-weight="normal" textLength="27.2" lengthAdjust="spacingAndGlyphs" stroke="#222" stroke-width="0.28">Age (yrs)</text>
<text x="136.70" y="362.60" font-size="9.7" text-anchor="middle" fill="#111" font-weight="normal" textLength="35" lengthAdjust="spacingAndGlyphs" stroke="#111" stroke-width="0.25">Children</text>
<text x="136.90" y="374.60" font-size="7.4" text-anchor="middle" fill="#111" font-weight="normal" textLength="50.8" lengthAdjust="spacingAndGlyphs" ><tspan font-style="italic">r</tspan>=0.18, P=0.02</text>
<text x="0.00" y="0.00" font-size="9.5" text-anchor="middle" fill="#111" font-weight="normal" textLength="84.6" lengthAdjust="spacingAndGlyphs" transform="translate(32.1,421.1) rotate(-90)" stroke="#111" stroke-width="0.3">eGFR-CysC (ml/min/1.73m<tspan dy="-3.5" font-size="6">2</tspan><tspan dy="3.5">)</tspan></text>
<g fill="#a5001f"><circle cx="112.8" cy="417.4" r="1.85"/><circle cx="109.9" cy="421.1" r="1.85"/><circle cx="88.3" cy="421.5" r="1.85"/><circle cx="87.2" cy="425.2" r="1.85"/><circle cx="106.4" cy="423.4" r="1.85"/><circle cx="103.4" cy="426.7" r="1.85"/><circle cx="94.4" cy="429.4" r="1.85"/><circle cx="99.5" cy="428.4" r="1.85"/><circle cx="105.4" cy="428.8" r="1.85"/><circle cx="108.1" cy="428.8" r="1.85"/><circle cx="101.5" cy="430.8" r="1.85"/><circle cx="100.1" cy="433.0" r="1.85"/><circle cx="107.0" cy="432.4" r="1.85"/><circle cx="111.1" cy="432.5" r="1.85"/><circle cx="112.8" cy="430.6" r="1.85"/><circle cx="81.9" cy="432.8" r="1.85"/><circle cx="73.6" cy="436.3" r="1.85"/><circle cx="103.4" cy="437.5" r="1.85"/><circle cx="108.1" cy="436.5" r="1.85"/><circle cx="110.6" cy="434.5" r="1.85"/><circle cx="80.5" cy="441.2" r="1.85"/><circle cx="86.4" cy="441.9" r="1.85"/><circle cx="96.2" cy="439.9" r="1.85"/><circle cx="101.5" cy="441.4" r="1.85"/><circle cx="104.4" cy="443.3" r="1.85"/><circle cx="108.1" cy="441.9" r="1.85"/><circle cx="110.3" cy="443.5" r="1.85"/><circle cx="93.2" cy="443.8" r="1.85"/><circle cx="92.3" cy="448.7" r="1.85"/><circle cx="114.2" cy="447.3" r="1.85"/><circle cx="121.5" cy="407.4" r="1.85"/><circle cx="125.4" cy="405.6" r="1.85"/><circle cx="128.4" cy="410.2" r="1.85"/><circle cx="125.6" cy="416.9" r="1.85"/><circle cx="131.8" cy="416.2" r="1.85"/><circle cx="116.0" cy="423.2" r="1.85"/><circle cx="136.2" cy="421.4" r="1.85"/><circle cx="139.4" cy="422.9" r="1.85"/><circle cx="126.8" cy="425.9" r="1.85"/><circle cx="130.0" cy="428.4" r="1.85"/><circle cx="129.1" cy="430.2" r="1.85"/><circle cx="118.5" cy="429.4" r="1.85"/><circle cx="117.4" cy="431.2" r="1.85"/><circle cx="125.3" cy="433.1" r="1.85"/><circle cx="132.6" cy="433.1" r="1.85"/><circle cx="160.9" cy="406.3" r="1.85"/><circle cx="162.5" cy="417.5" r="1.85"/><circle cx="145.3" cy="425.3" r="1.85"/><circle cx="151.5" cy="424.3" r="1.85"/><circle cx="157.5" cy="425.5" r="1.85"/><circle cx="160.0" cy="427.6" r="1.85"/><circle cx="156.5" cy="430.2" r="1.85"/><circle cx="159.1" cy="430.6" r="1.85"/><circle cx="165.2" cy="427.4" r="1.85"/><circle cx="167.4" cy="424.5" r="1.85"/><circle cx="145.0" cy="432.1" r="1.85"/><circle cx="148.4" cy="432.1" r="1.85"/><circle cx="164.1" cy="431.4" r="1.85"/><circle cx="165.6" cy="433.2" r="1.85"/><circle cx="154.0" cy="434.7" r="1.85"/><circle cx="183.9" cy="415.4" r="1.85"/><circle cx="195.5" cy="418.2" r="1.85"/><circle cx="187.3" cy="426.2" r="1.85"/><circle cx="191.1" cy="427.1" r="1.85"/><circle cx="171.4" cy="429.5" r="1.85"/><circle cx="173.8" cy="431.2" r="1.85"/><circle cx="173.8" cy="433.6" r="1.85"/><circle cx="183.4" cy="432.1" r="1.85"/><circle cx="187.5" cy="432.3" r="1.85"/><circle cx="188.5" cy="434.0" r="1.85"/><circle cx="186.1" cy="434.0" r="1.85"/><circle cx="117.1" cy="435.3" r="1.85"/><circle cx="118.8" cy="437.1" r="1.85"/><circle cx="115.9" cy="438.5" r="1.85"/><circle cx="121.5" cy="439.3" r="1.85"/><circle cx="119.1" cy="441.8" r="1.85"/><circle cx="122.4" cy="442.4" r="1.85"/><circle cx="125.9" cy="440.6" r="1.85"/><circle cx="127.4" cy="439.1" r="1.85"/><circle cx="128.5" cy="436.5" r="1.85"/><circle cx="127.6" cy="435.0" r="1.85"/><circle cx="132.4" cy="438.2" r="1.85"/><circle cx="132.9" cy="439.7" r="1.85"/><circle cx="134.7" cy="435.3" r="1.85"/><circle cx="138.2" cy="435.9" r="1.85"/><circle cx="138.8" cy="440.3" r="1.85"/><circle cx="139.1" cy="442.9" r="1.85"/><circle cx="115.9" cy="448.5" r="1.85"/><circle cx="124.7" cy="445.3" r="1.85"/><circle cx="126.5" cy="447.6" r="1.85"/><circle cx="130.5" cy="445.6" r="1.85"/><circle cx="136.5" cy="448.8" r="1.85"/><circle cx="137.6" cy="446.2" r="1.85"/><circle cx="143.2" cy="436.5" r="1.85"/><circle cx="145.9" cy="436.2" r="1.85"/><circle cx="147.9" cy="437.6" r="1.85"/><circle cx="143.8" cy="439.1" r="1.85"/><circle cx="153.2" cy="435.9" r="1.85"/><circle cx="156.8" cy="436.8" r="1.85"/><circle cx="159.1" cy="435.9" r="1.85"/><circle cx="164.7" cy="437.1" r="1.85"/><circle cx="168.8" cy="438.8" r="1.85"/><circle cx="162.4" cy="440.5" r="1.85"/><circle cx="150.9" cy="440.9" r="1.85"/><circle cx="154.4" cy="441.8" r="1.85"/><circle cx="150.0" cy="443.2" r="1.85"/><circle cx="141.2" cy="442.9" r="1.85"/><circle cx="145.9" cy="443.2" r="1.85"/><circle cx="165.3" cy="442.6" r="1.85"/><circle cx="169.4" cy="442.6" r="1.85"/><circle cx="141.8" cy="445.6" r="1.85"/><circle cx="145.9" cy="447.1" r="1.85"/><circle cx="149.4" cy="445.3" r="1.85"/><circle cx="151.2" cy="447.4" r="1.85"/><circle cx="157.1" cy="447.6" r="1.85"/><circle cx="161.2" cy="445.6" r="1.85"/><circle cx="162.4" cy="444.7" r="1.85"/><circle cx="161.8" cy="447.6" r="1.85"/><circle cx="168.8" cy="449.1" r="1.85"/><circle cx="140.6" cy="435.9" r="1.85"/><circle cx="174.9" cy="435.9" r="1.85"/><circle cx="176.2" cy="437.3" r="1.85"/><circle cx="179.3" cy="438.0" r="1.85"/><circle cx="186.2" cy="436.9" r="1.85"/><circle cx="196.8" cy="438.3" r="1.85"/><circle cx="171.8" cy="440.0" r="1.85"/><circle cx="183.1" cy="439.5" r="1.85"/><circle cx="187.6" cy="440.7" r="1.85"/><circle cx="186.5" cy="441.7" r="1.85"/><circle cx="173.5" cy="441.7" r="1.85"/><circle cx="174.9" cy="442.8" r="1.85"/><circle cx="179.0" cy="443.1" r="1.85"/><circle cx="189.8" cy="444.5" r="1.85"/><circle cx="175.5" cy="444.8" r="1.85"/><circle cx="176.9" cy="446.2" r="1.85"/><circle cx="177.6" cy="448.2" r="1.85"/><circle cx="98.6" cy="383.9" r="1.85"/><circle cx="97.7" cy="398.6" r="1.85"/><circle cx="115.0" cy="400.5" r="1.85"/><circle cx="116.6" cy="399.5" r="1.85"/></g>
<line x1="73.80" y1="430.30" x2="195.10" y2="438.00" stroke="#b8204a" stroke-width="1.1" />
<line x1="316.60" y1="368.30" x2="316.60" y2="474.80" stroke="#2a2a2a" stroke-width="1.8" />
<line x1="315.70" y1="473.90" x2="474.50" y2="473.90" stroke="#2a2a2a" stroke-width="1.8" />
<line x1="313.40" y1="473.90" x2="316.60" y2="473.90" stroke="#222" stroke-width="1.3" />
<text x="310.80" y="476.80" font-size="8.2" text-anchor="end" fill="#222" font-weight="normal" stroke="#222" stroke-width="0.25">0</text>
<line x1="313.40" y1="448.15" x2="316.60" y2="448.15" stroke="#222" stroke-width="1.3" />
<text x="310.80" y="451.05" font-size="8.2" text-anchor="end" fill="#222" font-weight="normal" stroke="#222" stroke-width="0.25">100</text>
<line x1="313.40" y1="422.40" x2="316.60" y2="422.40" stroke="#222" stroke-width="1.3" />
<text x="310.80" y="425.30" font-size="8.2" text-anchor="end" fill="#222" font-weight="normal" stroke="#222" stroke-width="0.25">200</text>
<line x1="313.40" y1="396.65" x2="316.60" y2="396.65" stroke="#222" stroke-width="1.3" />
<text x="310.80" y="399.55" font-size="8.2" text-anchor="end" fill="#222" font-weight="normal" stroke="#222" stroke-width="0.25">300</text>
<line x1="313.40" y1="370.90" x2="316.60" y2="370.90" stroke="#222" stroke-width="1.3" />
<text x="310.80" y="373.80" font-size="8.2" text-anchor="end" fill="#222" font-weight="normal" stroke="#222" stroke-width="0.25">400</text>
<line x1="316.60" y1="473.90" x2="316.60" y2="476.80" stroke="#222" stroke-width="1.3" />
<text x="316.60" y="487.40" font-size="8.2" text-anchor="middle" fill="#222" font-weight="normal" stroke="#222" stroke-width="0.25">0</text>
<line x1="355.20" y1="473.90" x2="355.20" y2="476.80" stroke="#222" stroke-width="1.3" />
<text x="355.20" y="487.40" font-size="8.2" text-anchor="middle" fill="#222" font-weight="normal" stroke="#222" stroke-width="0.25">20</text>
<line x1="393.80" y1="473.90" x2="393.80" y2="476.80" stroke="#222" stroke-width="1.3" />
<text x="393.80" y="487.40" font-size="8.2" text-anchor="middle" fill="#222" font-weight="normal" stroke="#222" stroke-width="0.25">40</text>
<line x1="432.40" y1="473.90" x2="432.40" y2="476.80" stroke="#222" stroke-width="1.3" />
<text x="432.40" y="487.40" font-size="8.2" text-anchor="middle" fill="#222" font-weight="normal" stroke="#222" stroke-width="0.25">60</text>
<line x1="471.00" y1="473.90" x2="471.00" y2="476.80" stroke="#222" stroke-width="1.3" />
<text x="471.00" y="487.40" font-size="8.2" text-anchor="middle" fill="#222" font-weight="normal" stroke="#222" stroke-width="0.25">80</text>
<text x="395.50" y="500.30" font-size="8.6" text-anchor="middle" fill="#222" font-weight="normal" textLength="27.2" lengthAdjust="spacingAndGlyphs" stroke="#222" stroke-width="0.28">Age (yrs)</text>
<text x="394.50" y="362.60" font-size="9.7" text-anchor="middle" fill="#111" font-weight="normal" textLength="26" lengthAdjust="spacingAndGlyphs" stroke="#111" stroke-width="0.25">Adults</text>
<text x="395.60" y="374.60" font-size="7.4" text-anchor="middle" fill="#111" font-weight="normal" textLength="53.4" lengthAdjust="spacingAndGlyphs" >r=0.36, P&lt;0.001</text>
<text x="0.00" y="0.00" font-size="9.5" text-anchor="middle" fill="#111" font-weight="normal" textLength="84.6" lengthAdjust="spacingAndGlyphs" transform="translate(291.4,421.1) rotate(-90)" stroke="#111" stroke-width="0.3">eGFR-CysC (ml/min/1.73m<tspan dy="-3.5" font-size="6">2</tspan><tspan dy="3.5">)</tspan></text>
<g fill="#a5001f"><circle cx="375.0" cy="391.3" r="1.85"/><circle cx="372.9" cy="409.8" r="1.85"/><circle cx="368.4" cy="412.7" r="1.85"/><circle cx="373.2" cy="414.4" r="1.85"/><circle cx="380.6" cy="412.2" r="1.85"/><circle cx="387.5" cy="409.6" r="1.85"/><circle cx="389.9" cy="415.4" r="1.85"/><circle cx="392.1" cy="418.9" r="1.85"/><circle cx="355.6" cy="418.0" r="1.85"/><circle cx="365.2" cy="418.5" r="1.85"/><circle cx="363.3" cy="419.4" r="1.85"/><circle cx="370.3" cy="417.5" r="1.85"/><circle cx="360.0" cy="420.9" r="1.85"/><circle cx="354.4" cy="423.7" r="1.85"/><circle cx="362.4" cy="424.4" r="1.85"/><circle cx="359.4" cy="427.1" r="1.85"/><circle cx="361.2" cy="426.8" r="1.85"/><circle cx="370.9" cy="427.4" r="1.85"/><circle cx="374.7" cy="423.2" r="1.85"/><circle cx="355.5" cy="429.4" r="1.85"/><circle cx="359.7" cy="429.1" r="1.85"/><circle cx="365.6" cy="430.4" r="1.85"/><circle cx="369.1" cy="431.2" r="1.85"/><circle cx="374.4" cy="431.5" r="1.85"/><circle cx="353.5" cy="433.7" r="1.85"/><circle cx="352.6" cy="437.1" r="1.85"/><circle cx="357.4" cy="435.6" r="1.85"/><circle cx="361.2" cy="433.8" r="1.85"/><circle cx="364.4" cy="432.6" r="1.85"/><circle cx="366.8" cy="435.0" r="1.85"/><circle cx="362.6" cy="437.4" r="1.85"/><circle cx="359.7" cy="438.2" r="1.85"/><circle cx="365.0" cy="438.5" r="1.85"/><circle cx="368.5" cy="437.9" r="1.85"/><circle cx="372.1" cy="437.4" r="1.85"/><circle cx="374.4" cy="436.2" r="1.85"/><circle cx="355.6" cy="440.9" r="1.85"/><circle cx="358.5" cy="442.6" r="1.85"/><circle cx="362.6" cy="441.5" r="1.85"/><circle cx="366.8" cy="440.9" r="1.85"/><circle cx="369.7" cy="442.6" r="1.85"/><circle cx="372.6" cy="442.1" r="1.85"/><circle cx="353.8" cy="444.4" r="1.85"/><circle cx="364.4" cy="443.8" r="1.85"/><circle cx="389.9" cy="421.4" r="1.85"/><circle cx="384.4" cy="423.5" r="1.85"/><circle cx="385.2" cy="426.1" r="1.85"/><circle cx="383.0" cy="428.4" r="1.85"/><circle cx="377.1" cy="427.6" r="1.85"/><circle cx="380.2" cy="431.8" r="1.85"/><circle cx="383.6" cy="434.5" r="1.85"/><circle cx="375.5" cy="435.1" r="1.85"/><circle cx="396.5" cy="431.3" r="1.85"/><circle cx="411.6" cy="434.9" r="1.85"/><circle cx="379.1" cy="438.1" r="1.85"/><circle cx="381.4" cy="437.8" r="1.85"/><circle cx="393.6" cy="439.4" r="1.85"/><circle cx="395.4" cy="441.0" r="1.85"/><circle cx="390.4" cy="443.1" r="1.85"/><circle cx="400.1" cy="442.2" r="1.85"/><circle cx="402.4" cy="445.3" r="1.85"/><circle cx="408.9" cy="439.8" r="1.85"/><circle cx="407.7" cy="443.6" r="1.85"/><circle cx="373.6" cy="443.7" r="1.85"/><circle cx="379.7" cy="444.5" r="1.85"/><circle cx="373.2" cy="446.5" r="1.85"/><circle cx="383.0" cy="446.1" r="1.85"/><circle cx="380.2" cy="447.6" r="1.85"/><circle cx="385.3" cy="447.6" r="1.85"/><circle cx="392.0" cy="448.8" r="1.85"/><circle cx="359.6" cy="443.4" r="1.85"/><circle cx="369.6" cy="441.1" r="1.85"/><circle cx="362.7" cy="444.2" r="1.85"/><circle cx="365.8" cy="442.6" r="1.85"/><circle cx="352.3" cy="448.0" r="1.85"/><circle cx="362.7" cy="446.5" r="1.85"/><circle cx="363.5" cy="450.3" r="1.85"/><circle cx="360.4" cy="450.3" r="1.85"/><circle cx="355.4" cy="450.3" r="1.85"/><circle cx="354.2" cy="451.8" r="1.85"/><circle cx="357.3" cy="452.6" r="1.85"/><circle cx="355.8" cy="455.3" r="1.85"/><circle cx="365.0" cy="454.9" r="1.85"/><circle cx="368.1" cy="451.8" r="1.85"/><circle cx="369.2" cy="453.4" r="1.85"/><circle cx="371.9" cy="445.7" r="1.85"/><circle cx="383.5" cy="448.0" r="1.85"/><circle cx="378.8" cy="452.2" r="1.85"/><circle cx="377.3" cy="454.2" r="1.85"/><circle cx="375.6" cy="458.6" r="1.85"/><circle cx="381.0" cy="459.4" r="1.85"/><circle cx="352.7" cy="438.4" r="1.85"/><circle cx="417.5" cy="439.4" r="1.85"/><circle cx="426.1" cy="442.3" r="1.85"/><circle cx="428.2" cy="441.1" r="1.85"/><circle cx="431.9" cy="446.3" r="1.85"/><circle cx="437.7" cy="452.7" r="1.85"/><circle cx="387.5" cy="451.3" r="1.85"/><circle cx="390.6" cy="451.8" r="1.85"/><circle cx="408.3" cy="451.0" r="1.85"/><circle cx="403.6" cy="452.7" r="1.85"/><circle cx="417.5" cy="449.0" r="1.85"/><circle cx="421.8" cy="449.0" r="1.85"/><circle cx="421.8" cy="453.8" r="1.85"/><circle cx="410.9" cy="455.9" r="1.85"/><circle cx="386.3" cy="459.8" r="1.85"/><circle cx="390.6" cy="459.8" r="1.85"/><circle cx="425.0" cy="461.7" r="1.85"/><circle cx="429.4" cy="459.8" r="1.85"/><circle cx="407.7" cy="466.0" r="1.85"/><circle cx="417.5" cy="466.0" r="1.85"/><circle cx="428.4" cy="466.3" r="1.85"/><circle cx="441.8" cy="462.0" r="1.85"/><circle cx="441.3" cy="464.7" r="1.85"/><circle cx="362.0" cy="431.0" r="1.85"/><circle cx="370.0" cy="433.5" r="1.85"/><circle cx="360.0" cy="434.5" r="1.85"/><circle cx="364.0" cy="435.5" r="1.85"/><circle cx="368.0" cy="436.5" r="1.85"/><circle cx="371.0" cy="439.5" r="1.85"/><circle cx="361.0" cy="438.5" r="1.85"/><circle cx="365.0" cy="440.0" r="1.85"/><circle cx="369.0" cy="444.5" r="1.85"/><circle cx="358.0" cy="439.5" r="1.85"/><circle cx="366.0" cy="446.0" r="1.85"/><circle cx="371.0" cy="442.0" r="1.85"/><circle cx="356.0" cy="432.0" r="1.85"/><circle cx="354.0" cy="436.0" r="1.85"/><circle cx="357.0" cy="438.0" r="1.85"/><circle cx="367.0" cy="428.5" r="1.85"/><circle cx="363.0" cy="429.0" r="1.85"/><circle cx="358.0" cy="431.0" r="1.85"/></g>
<line x1="351.50" y1="433.70" x2="442.00" y2="453.60" stroke="#b8204a" stroke-width="1.1" />
</svg></body></html>
